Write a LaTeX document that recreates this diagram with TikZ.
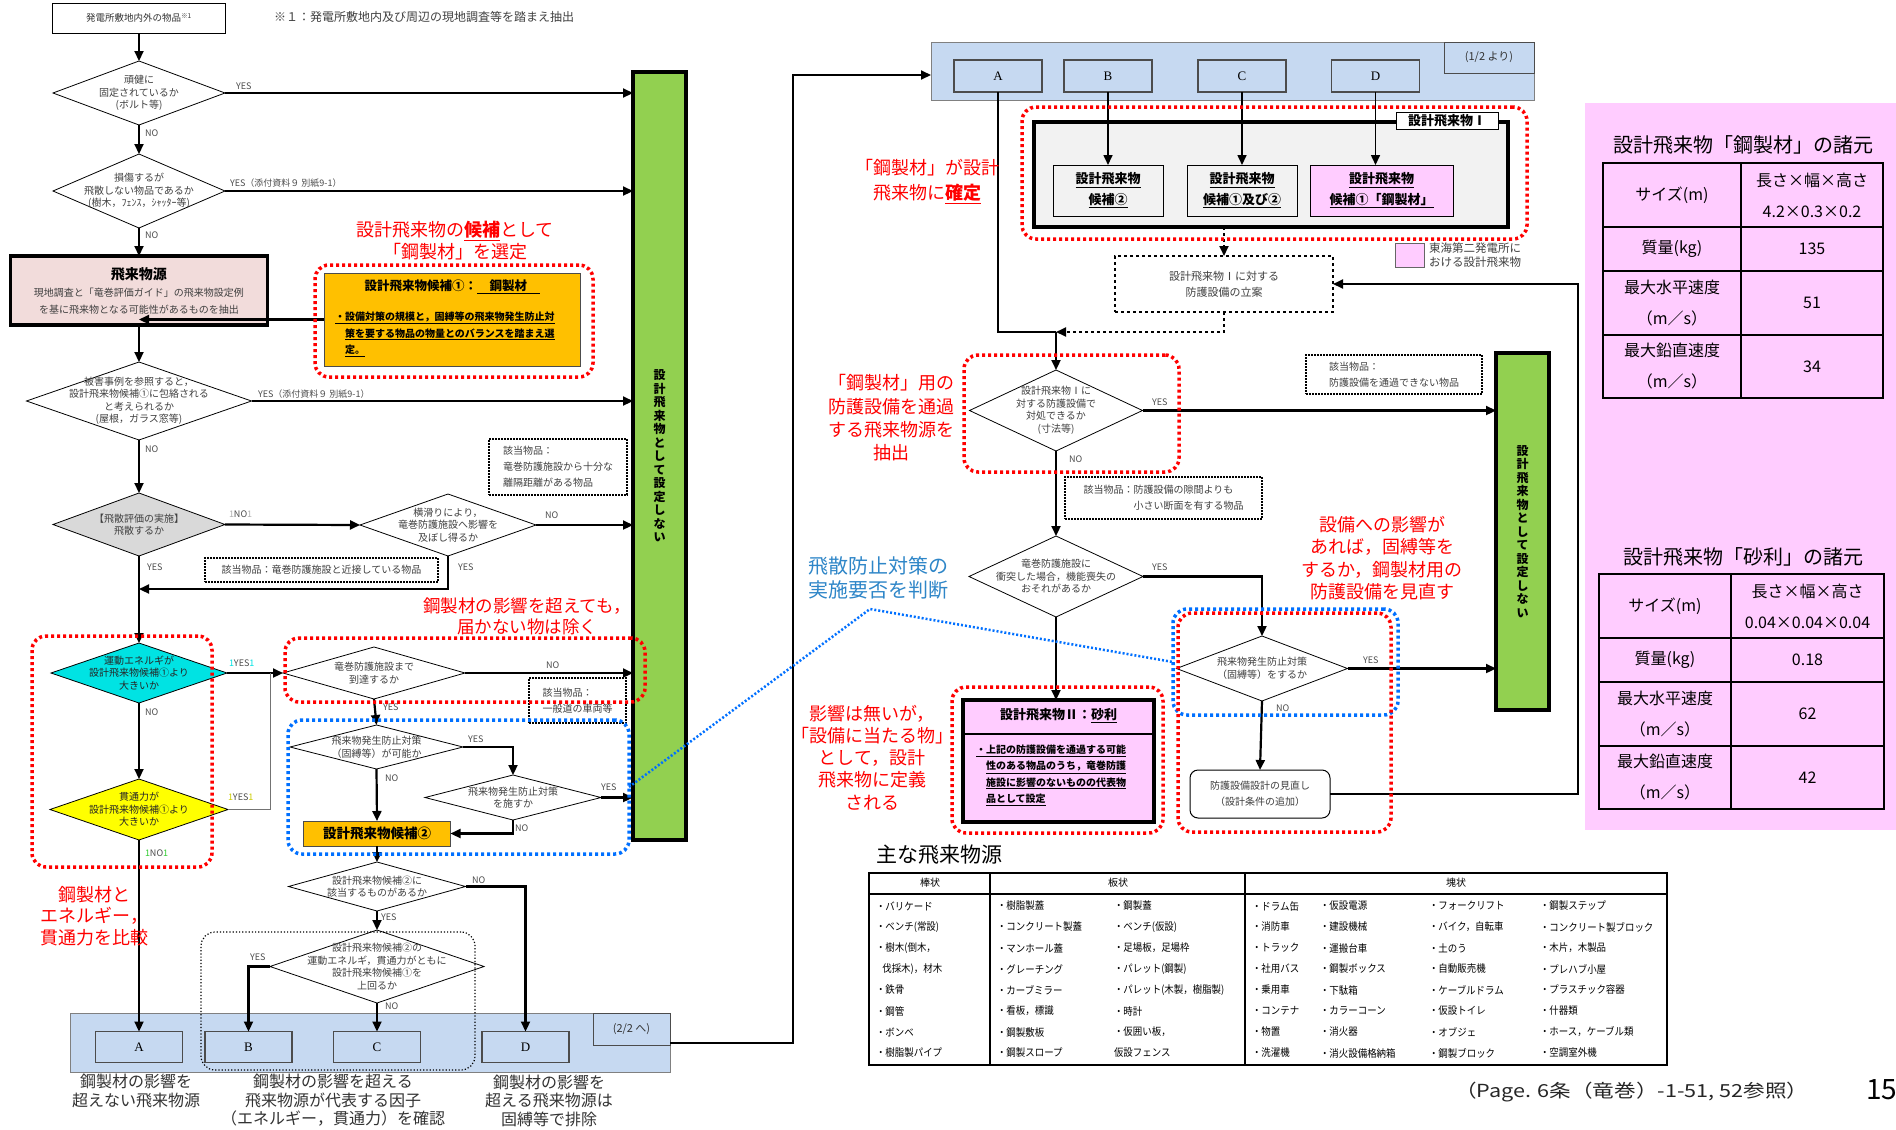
\documentclass[tikz,border=0pt]{standalone}
\usepackage{fontspec}
\setmainfont{Noto Sans CJK JP}
\newfontfamily\letterfont{Liberation Serif}
\usepackage{tikz}
\usetikzlibrary{positioning,shapes.geometric,arrows.meta}

\definecolor{barGreen}{HTML}{92D050}
\definecolor{candPink}{HTML}{FFCCFF}
\definecolor{candOrange}{HTML}{FFC000}
\definecolor{evalCyan}{HTML}{00E3E3}
\definecolor{evalYellow}{HTML}{FFFF00}
\definecolor{evalGray}{HTML}{D9D9D9}
\definecolor{evalGreen}{HTML}{33CC33}
\definecolor{bandBlue}{HTML}{C6D9F1}
\definecolor{srcPink}{HTML}{F2DCDB}
\definecolor{panelGray}{HTML}{F2F2F2}
\definecolor{zoneBlue}{HTML}{0070FF}
\definecolor{textBlue}{HTML}{2E86C8}

\begin{document}
\begin{tikzpicture}[x=1pt, y=-1pt,
    every node/.style={inner sep=0pt, outer sep=0pt},
    >={Triangle[length=10pt,width=9pt]},
    flow/.style={->, line width=2.2pt},
    thinlink/.style={line width=0.9pt, draw=black!55},
    decision/.style={diamond, draw, line width=0.8pt, fill=white},
    dtext/.style={align=center, font=\fontsize{10}{12.5}\selectfont, text=black!75},
    yn/.style={anchor=west, font=\fontsize{9}{10}\selectfont, text=black!70},
    notebox/.style={draw, densely dotted, line width=2pt, fill=white, align=left, font=\fontsize{10}{16}\selectfont, text=black!75},
    redzone/.style={draw=red, line width=3.5pt, dash pattern=on 3pt off 3pt, rounded corners=14pt},
    bluezone/.style={draw=zoneBlue, line width=3.5pt, dash pattern=on 3pt off 3pt, rounded corners=14pt},
    redtxt/.style={text=red, align=center, font=\fontsize{18}{22}\selectfont},
    caption/.style={text=black!80, align=center, font=\fontsize{16}{18.5}\selectfont},
    notset/.style={draw, line width=4pt, fill=barGreen, align=center, font=\bfseries\fontsize{12}{13.5}\selectfont},
    band/.style={draw=black!50, line width=1pt, fill=bandBlue},
    letter/.style={draw=black!70, line width=1.2pt, fill=bandBlue, minimum width=87pt, minimum height=31pt, font=\letterfont\fontsize{13}{15}\selectfont},
    cand/.style={draw, line width=1pt, fill=panelGray, align=center, minimum width=110pt, minimum height=51pt, font=\bfseries\fontsize{13}{21}\selectfont},
    cell/.style={draw, line width=1.8pt, align=center, font=\fontsize{16}{31}\selectfont},
    item/.style={anchor=west, font=\fontsize{10.5}{12}\selectfont}
]
\useasboundingbox (0,0) rectangle (1896,1130);
\fill[white] (0,0) rectangle (1896,1130);

% ---- left page (1/2) ----
\node[draw, line width=1pt, minimum width=173pt, minimum height=30pt, font=\fontsize{9.5}{11}\selectfont, text=black!80] (items) at (139,18) {発電所敷地内外の物品\textsuperscript{※1}};
\node[anchor=west, font=\fontsize{12}{14}\selectfont, text=black!75] (fn) at (274,17) {※１：発電所敷地内及び周辺の現地調査等を踏まえ抽出};

\node[decision, minimum width=172pt, minimum height=64pt] (d1) at (139,93) {};
\node[dtext] (d1t) at (d1) {頑健に\\固定されているか\\(ボルト等)};
\node[decision, minimum width=172pt, minimum height=74pt] (d2) at (139,191) {};
\node[dtext] (d2t) at (d2) {損傷するが\\飛散しない物品であるか\\(樹木，ﾌｪﾝｽ，ｼｬｯﾀｰ等)};

\node[draw, line width=3.5pt, fill=srcPink, minimum width=257pt, minimum height=69pt, align=center, font=\fontsize{10}{17}\selectfont, text=black!75] (src) at (139,290.5) {{\bfseries\fontsize{14}{17}\selectfont\color{black}飛来物源}\\現地調査と「竜巻評価ガイド」の飛来物設定例\\を基に飛来物となる可能性があるものを抽出};

\node[draw=black!70, line width=1pt, fill=candOrange, minimum width=256pt, minimum height=93pt] (o1) at (452,319.5) {};
\node[font=\bfseries\fontsize{12.5}{14}\selectfont] (o1t) at (452,287) {設計飛来物候補①：\underline{\hspace*{1em}鋼製材\hspace*{1em}}};
\node[anchor=north west, align=left, font=\bfseries\fontsize{10}{16.5}\selectfont] (o1b) at (335,312) {\underline{・設備対策の規模と，固縛等の飛来物発生防止対}\\\hspace*{1em}\underline{策を要する物品の物量とのバランスを踏まえ選}\\\hspace*{1em}\underline{定。}};

\node[decision, minimum width=225pt, minimum height=78pt] (d3) at (139,401) {};
\node[dtext] (d3t) at (d3) {被害事例を参照すると，\\設計飛来物候補①に包絡される\\と考えられるか\\(屋根，ガラス窓等)};
\node[decision, fill=evalGray, minimum width=172pt, minimum height=63pt] (d4) at (139,524.5) {};
\node[dtext] (d4t) at (d4) {【飛散評価の実施】\\飛散するか};
\node[decision, minimum width=176pt, minimum height=62pt] (d5) at (448,525) {};
\node[dtext] (d5t) at (d5) {横滑りにより，\\竜巻防護施設へ影響を\\及ぼし得るか};

\node[notebox, minimum width=138pt, minimum height=56pt] (nb1) at (558,467) {該当物品：\\竜巻防護施設から十分な\\離隔距離がある物品};
\node[notebox, minimum width=233pt, minimum height=24pt] (nb2) at (321.5,570) {該当物品：竜巻防護施設と近接している物品};

\node[decision, fill=evalCyan, minimum width=176pt, minimum height=60pt] (cyan) at (139,673) {};
\node[dtext, text=black!85] (cyant) at (cyan) {運動エネルギが\\設計飛来物候補①より\\大きいか};
\node[decision, fill=evalYellow, minimum width=178pt, minimum height=61pt] (yel) at (139,809.5) {};
\node[dtext, text=black!85] (yelt) at (yel) {貫通力が\\設計飛来物候補①より\\大きいか};

\node[decision, minimum width=182pt, minimum height=52pt] (d6) at (374,673) {};
\node[dtext] (d6t) at (d6) {竜巻防護施設まで\\到達するか};
\node[notebox, minimum width=97pt, minimum height=45pt] (nb3) at (577.5,700.5) {該当物品：\\一般道の車両等};
\node[decision, minimum width=173pt, minimum height=44pt] (d7) at (376.5,747) {};
\node[dtext] (d7t) at (d7) {飛来物発生防止対策\\（固縛等）が可能か};
\node[decision, minimum width=176pt, minimum height=45pt] (d8) at (513,797.5) {};
\node[dtext] (d8t) at (d8) {飛来物発生防止対策\\を施すか};
\node[draw=black!70, line width=1pt, fill=candOrange, minimum width=147pt, minimum height=25pt, font=\bfseries\fontsize{13.5}{15}\selectfont] (cand2) at (377,833.5) {設計飛来物候補②};
\node[decision, minimum width=177pt, minimum height=49pt] (d9) at (377,886.5) {};
\node[dtext] (d9t) at (d9) {設計飛来物候補②に\\該当するものがあるか};
\node[decision, minimum width=214pt, minimum height=73pt] (d10) at (377,966.5) {};
\node[dtext] (d10t) at (d10) {設計飛来物候補②の\\運動エネルギ，貫通力がともに\\設計飛来物候補①を\\上回るか};

\node[notset, minimum width=53pt, minimum height=768pt] (gb1) at (659.5,456) {設\\計\\飛\\来\\物\\と\\し\\て\\設\\定\\し\\な\\い};

\node[band, minimum width=600pt, minimum height=59pt] (lb) at (370,1042.5) {};
\node[draw=black!70, line width=1pt, fill=bandBlue, minimum width=77pt, minimum height=32pt, font=\fontsize{11}{13}\selectfont, text=black!80] (to2) at (631.5,1029) {(2/2 へ)};
\node[letter] (bA) at (139,1047) {A};
\node[letter] (bB) at (248.5,1047) {B};
\node[letter] (bC) at (377,1047) {C};
\node[letter] (bD) at (525.5,1047) {D};

\node[caption] (cap1) at (136,1091) {鋼製材の影響を\\超えない飛来物源};
\node[caption] (cap2) at (333,1100.5) {鋼製材の影響を超える\\飛来物源が代表する因子\\（エネルギー，貫通力）を確認};
\node[caption] (cap3) at (549,1100.5) {鋼製材の影響を\\超える飛来物源は\\固縛等で排除};

% connectors, left page
\draw[flow] (items.south) -- (d1.north);
\draw[flow] (d1.east) -- (d1.east -| gb1.west);
\draw[flow] (d1.south) -- (d2.north);
\draw[flow] (d2.east) -- (d2.east -| gb1.west);
\draw[flow] (d2.south) -- (src.north);
\draw[flow] (src.south) -- (d3.north);
\draw[flow] (o1.west) -- (o1.west -| src.south);
\draw[flow] (d3.east) -- (d3.east -| gb1.west);
\draw[flow] (d3.south) -- (d4.north);
\draw[flow] (d4.east) -- (d5.west);
\draw[flow] (d5.east) -- (d5.east -| gb1.west);
\coordinate (m1) at (139,589);
\draw[flow] (d5.south) |- (m1);
\draw[flow] (d4.south) -- (cyan.north);
\draw[flow] (cyan.east) -- (d6.west);
\coordinate (yj) at (270,673);
\draw[thinlink] (yel.east) -| (yj);
\draw[flow] (cyan.south) -- (yel.north);
\draw[flow] (yel.south) -- (bA.north);
\draw[flow] (d6.east) -- (d6.east -| gb1.west);
\draw[flow] (d6.south) -- (d7.north);
\draw[flow] (d7.east) -| (d8.north);
\draw[flow] (d8.east) -- (d8.east -| gb1.west);
\draw[flow] (d8.south) |- (cand2.east);
\draw[flow] (d7.south) -- (cand2.north);
\draw[flow] (cand2.south) -- (d9.north);
\draw[flow] (d9.east) -| (bD.north);
\draw[flow] (d9.south) -- (d10.north);
\draw[flow] (d10.west) -| (bB.north);
\draw[flow] (d10.south) -- (bC.north);
\coordinate (tj) at (793,75);

% labels, left page
\node[yn] (l1) at (236,86) {YES};
\node[yn] (l2) at (145,133) {NO};
\node[yn] (l3) at (230,183) {YES（添付資料９ 別紙9-1）};
\node[yn] (l4) at (145,235) {NO};
\node[yn] (l5) at (258,394) {YES（添付資料９ 別紙9-1）};
\node[yn] (l6) at (145,449) {NO};
\node[yn] (l7) at (229,514) {\textcolor{black!30}{1}NO\textcolor{black!30}{1}};
\node[yn] (l8) at (545,515) {NO};
\node[yn] (l9) at (458,567) {YES};
\node[yn] (l10) at (147,567) {YES};
\node[yn] (l11) at (229,663) {\textcolor{evalCyan}{1}YES\textcolor{evalCyan}{1}};
\node[yn] (l12) at (145,712) {NO};
\node[yn] (l13) at (228,797) {\textcolor{evalYellow!80!black}{1}YES\textcolor{evalYellow!80!black}{1}};
\node[yn] (l14) at (145,853) {\textcolor{evalGreen}{1}NO\textcolor{evalGreen}{1}};
\node[yn] (l15) at (546,665) {NO};
\node[yn] (l16) at (383,707) {YES};
\node[yn] (l17) at (468,739) {YES};
\node[yn] (l18) at (385,778) {NO};
\node[yn] (l19) at (601,787) {YES};
\node[yn] (l20) at (515,828) {NO};
\node[yn] (l21) at (472,880) {NO};
\node[yn] (l22) at (381,917) {YES};
\node[yn] (l23) at (250,957) {YES};
\node[yn] (l24) at (385,1006) {NO};

% ---- right page (2/2) ----
\node[band, minimum width=603pt, minimum height=58pt] (ub) at (1232.5,71) {};
\node[draw=black!70, line width=1pt, fill=bandBlue, minimum width=90pt, minimum height=31pt, font=\fontsize{11}{13}\selectfont, text=black!80] (from1) at (1489,57.5) {(1/2 より)};
\node[letter, minimum width=88pt, minimum height=32pt] (uA) at (998,76) {A};
\node[letter, minimum width=88pt, minimum height=32pt] (uB) at (1108,76) {B};
\node[letter, minimum width=88pt, minimum height=32pt] (uC) at (1242,76) {C};
\node[letter, minimum width=88pt, minimum height=32pt] (uD) at (1375.5,76) {D};
\draw[flow, line width=2pt] (lb.east) -| (tj) -- (tj -| ub.west);

\node[draw, line width=4pt, fill=panelGray, minimum width=474pt, minimum height=105pt] (p1) at (1271,174.5) {};
\node[draw, line width=1pt, fill=white, minimum width=102pt, minimum height=17pt, font=\bfseries\fontsize{13}{15}\selectfont] (p1l) at (1447,121) {設計飛来物Ⅰ};
\node[cand] (k1) at (1108,190.5) {\underline{設計飛来物}\\\underline{候補②}};
\node[cand] (k2) at (1242,190.5) {\underline{設計飛来物}\\\underline{候補①及び②}};
\node[cand, fill=candPink, minimum width=143pt] (k3) at (1381.5,190.5) {\underline{設計飛来物}\\\underline{候補①「鋼製材」}};
\draw[flow, line width=1.6pt] (uB.south) -- (k1.north);
\draw[flow, line width=1.6pt] (uC.south) -- (k2.north);
\draw[flow, line width=1.6pt] (uD.south) -- (uD.south |- k3.north);

\node[draw=black!60, line width=0.8pt, fill=candPink, minimum width=29pt, minimum height=24pt] (lg) at (1409.5,255) {};
\node[right=5pt of lg, align=left, font=\fontsize{11.5}{13.5}\selectfont, text=black!75] (lgt) {東海第二発電所に\\おける設計飛来物};

\node[draw, dashed, line width=1.8pt, minimum width=218pt, minimum height=56pt, align=center, font=\fontsize{11}{16}\selectfont, text=black!75] (plan) at (1224,284) {設計飛来物Ⅰに対する\\防護設備の立案};
\draw[flow, dashed, line width=1.8pt] (p1.south -| plan.north) -- (plan.north);
\coordinate (pj) at (1056,332);
\draw[flow, dashed, line width=2pt] (plan.south) |- (pj);
\draw[line width=1.6pt] (uA.south) |- (pj);

\node[decision, minimum width=173pt, minimum height=81pt] (d11) at (1056,410.5) {};
\node[dtext] (d11t) at (d11) {設計飛来物Ⅰに\\対する防護設備で\\対処できるか\\(寸法等)};
\node[notebox, minimum width=176pt, minimum height=39pt] (nb4) at (1394,374.5) {該当物品：\\防護設備を通過できない物品};
\node[notebox, minimum width=197pt, minimum height=42pt] (nb5) at (1163.5,498) {該当物品：防護設備の隙間よりも\\\hspace*{5em}小さい断面を有する物品};
\node[decision, minimum width=174pt, minimum height=81pt] (d12) at (1056,576.5) {};
\node[dtext] (d12t) at (d12) {竜巻防護施設に\\衝突した場合，機能喪失の\\おそれがあるか};
\node[decision, minimum width=171pt, minimum height=65pt] (d13) at (1262,668.5) {};
\node[dtext] (d13t) at (d13) {飛来物発生防止対策\\（固縛等）をするか};
\node[draw, line width=1pt, rounded corners=8pt, minimum width=140pt, minimum height=48pt, align=center, font=\fontsize{10}{16}\selectfont, text=black!75] (rev) at (1260,794) {防護設備設計の見直し\\（設計条件の追加）};

\node[draw, line width=4pt, fill=candPink, minimum width=191pt, minimum height=122pt] (gravel) at (1058.5,761) {};
\node[font=\bfseries\fontsize{13}{15}\selectfont] (gt) at (1058.5,716) {設計飛来物Ⅱ：\underline{砂利}};
\coordinate (gsep) at (1058.5,734);
\draw[line width=1.5pt] (gravel.west |- gsep) -- (gravel.east |- gsep);
\node[anchor=north west, align=left, font=\bfseries\fontsize{10}{16.3}\selectfont] (gb) at (976,745) {\underline{・上記の防護設備を通過する可能}\\\hspace*{1em}\underline{性のある物品のうち，竜巻防護}\\\hspace*{1em}\underline{施設に影響のないものの代表物}\\\hspace*{1em}\underline{品として設定}};

\node[notset, minimum width=53pt, minimum height=357pt] (gb2) at (1522.5,531.5) {設\\計\\飛\\来\\物\\と\\し\\て\\設\\定\\し\\な\\い};

\draw[flow] (pj) -- (d11.north);
\draw[flow] (d11.east) -- (d11.east -| gb2.west);
\draw[flow] (d11.south) -- (d12.north);
\draw[flow] (d12.east) -| (d13.north);
\draw[flow] (d13.east) -- (d13.east -| gb2.west);
\draw[flow] (d13.south) -- (rev.north);
\draw[flow] (d12.south) -- (d12.south |- gravel.north);
\coordinate (rj) at (1578,284);
\draw[flow] (rev.east) -| (rj) -- (plan.east);

\node[yn] (l25) at (1152,402) {YES};
\node[yn] (l26) at (1069,459) {NO};
\node[yn] (l27) at (1152,567) {YES};
\node[yn] (l28) at (1363,660) {YES};
\node[yn] (l29) at (1276,708) {NO};

% ---- zones and notes ----
\node[redzone, minimum width=278pt, minimum height=112pt] (rz1) at (454,321) {};
\node[redzone, minimum width=360pt, minimum height=64pt] (rz2) at (465,670) {};
\node[redzone, minimum width=180pt, minimum height=231pt] (rz3) at (122,751.5) {};
\node[bluezone, minimum width=341pt, minimum height=134pt] (bz1) at (458.5,787) {};
\node[draw, dotted, line width=1.2pt, rounded corners=14pt, minimum width=274pt, minimum height=138pt] (kz) at (338,1001) {};
\node[redzone, minimum width=505pt, minimum height=132pt] (rz4) at (1274.5,173) {};
\node[redzone, minimum width=215pt, minimum height=117pt] (rz5) at (1071.5,413.5) {};
\node[bluezone, minimum width=225pt, minimum height=106pt] (bz2) at (1285.5,662) {};
\node[redzone, minimum width=213pt, minimum height=219pt] (rz6) at (1284.5,722.5) {};
\node[redzone, minimum width=211pt, minimum height=146pt] (rz7) at (1057.5,760) {};
\coordinate (bk) at (870,609);
\draw[zoneBlue, line width=2.5pt, dash pattern=on 2pt off 2pt] (bz1.east) -- (bk) -- (bz2.west);

\node[redtxt] (rt1) at (455,241) {設計飛来物の\textbf{\underline{候補}}として\\「鋼製材」を選定};
\node[redtxt, font=\fontsize{17.5}{21}\selectfont] (rt2) at (527,616.5) {鋼製材の影響を超えても，\\届かない物は除く};
\node[redtxt, font=\fontsize{18}{21.5}\selectfont] (rt3) at (94,916) {鋼製材と\\エネルギー，\\貫通力を比較};
\node[redtxt, font=\fontsize{18}{25}\selectfont] (rt4) at (927,181.5) {「鋼製材」が設計\\飛来物に\textbf{\underline{確定}}};
\node[redtxt, font=\fontsize{18}{23.3}\selectfont] (rt5) at (891,418) {「鋼製材」用の\\防護設備を通過\\する飛来物源を\\抽出};
\node[redtxt, font=\fontsize{18}{22.3}\selectfont] (rt6) at (1382,558) {設備への影響が\\あれば，固縛等を\\するか，鋼製材用の\\防護設備を見直す};
\node[redtxt, font=\fontsize{18}{22.2}\selectfont] (rt7) at (872,757.5) {影響は無いが，\\「設備に当たる物」\\として，設計\\飛来物に定義\\される};
\node[align=center, text=textBlue, font=\fontsize{20}{24}\selectfont] (bt) at (878,578) {飛散防止対策の\\実施要否を判断};

% ---- main sources table ----
\node[anchor=west, font=\fontsize{21}{24}\selectfont] (tt) at (876,855) {主な飛来物源};
\node[draw, line width=1.5pt, minimum width=798pt, minimum height=192pt] (tbl) at (1268,969) {};
\draw[line width=1.2pt] (869,894) -- (1667,894);
\draw[line width=1.2pt] (990,873) -- (990,1065);
\draw[line width=1.2pt] (1245,873) -- (1245,1065);
\node[font=\fontsize{10}{11}\selectfont] (h1) at (930,883) {棒状};
\node[font=\fontsize{10}{11}\selectfont] (h2) at (1118,883) {板状};
\node[font=\fontsize{10}{11}\selectfont] (h3) at (1456,883) {塊状};
\foreach \t [count=\i] in {・バリケード,・ベンチ(常設),・樹木(倒木，,\hspace*{7pt}伐採木)，材木,・鉄骨,・鋼管,・ボンベ,・樹脂製パイプ}
  \node[item] (ca\i) at (876,885+21*\i) {\scalebox{0.9}[1]{\t}};
\foreach \t [count=\i] in {・樹脂製蓋,・コンクリート製蓋,・マンホール蓋,・グレーチング,・カーブミラー,・看板，標識,・鋼製敷板,・鋼製スロープ}
  \node[item] (cb\i) at (997,885+21*\i) {\scalebox{0.9}[1]{\t}};
\foreach \t [count=\i] in {・鋼製蓋,・ベンチ(仮設),・足場板，足場枠,・パレット(鋼製),・パレット(木製，樹脂製),・時計,・仮囲い板，,仮設フェンス}
  \node[item] (cc\i) at (1114,885+21*\i) {\scalebox{0.9}[1]{\t}};
\foreach \t [count=\i] in {・ドラム缶,・消防車,・トラック,・社用バス,・乗用車,・コンテナ,・物置,・洗濯機}
  \node[item] (cd\i) at (1252,885+21*\i) {\scalebox{0.9}[1]{\t}};
\foreach \t [count=\i] in {・仮設電源,・建設機械,・運搬台車,・鋼製ボックス,・下駄箱,・カラーコーン,・消火器,・消火設備格納箱}
  \node[item] (ce\i) at (1320,885+21*\i) {\scalebox{0.9}[1]{\t}};
\foreach \t [count=\i] in {・フォークリフト,・バイク，自転車,・土のう,・自動販売機,・ケーブルドラム,・仮設トイレ,・オブジェ,・鋼製ブロック}
  \node[item] (cf\i) at (1429,885+21*\i) {\scalebox{0.9}[1]{\t}};
\foreach \t [count=\i] in {・鋼製ステップ,・コンクリート製ブロック,・木片，木製品,・プレハブ小屋,・プラスチック容器,・什器類,・ホース，ケーブル類,・空調室外機}
  \node[item] (cg\i) at (1540,885+21*\i) {\scalebox{0.9}[1]{\t}};

\node[anchor=west, font=\fontsize{18}{20}\selectfont, text=black!85] (pref) at (1455,1092) {\scalebox{1.2}[1]{（Page. 6条（竜巻）-1-51, 52参照）}};
\node[anchor=west, font=\fontsize{28}{30}\selectfont] (pgno) at (1866,1090) {15};

% ---- specification panel ----
\fill[candPink] (1585,103) rectangle (1896,830);
\node[font=\fontsize{20}{24}\selectfont] (t1) at (1743,145) {設計飛来物「鋼製材」の諸元};
\node[cell, minimum width=138pt, minimum height=64pt] (s11) at (1672,195) {サイズ(m)};
\node[cell, minimum width=142pt, minimum height=64pt] (s12) at (1812,195) {長さ×幅×高さ\\4.2×0.3×0.2};
\node[cell, minimum width=138pt, minimum height=44pt] (s21) at (1672,249) {質量(kg)};
\node[cell, minimum width=142pt, minimum height=44pt] (s22) at (1812,249) {135};
\node[cell, minimum width=138pt, minimum height=64pt] (s31) at (1672,303) {最大水平速度\\（m／s）};
\node[cell, minimum width=142pt, minimum height=64pt] (s32) at (1812,303) {51};
\node[cell, minimum width=138pt, minimum height=63pt] (s41) at (1672,366.5) {最大鉛直速度\\（m／s）};
\node[cell, minimum width=142pt, minimum height=63pt] (s42) at (1812,366.5) {34};

\node[font=\fontsize{20}{24}\selectfont] (t2) at (1743,557) {設計飛来物「砂利」の諸元};
\node[cell, minimum width=132pt, minimum height=64pt] (g11) at (1665,606) {サイズ(m)};
\node[cell, minimum width=153pt, minimum height=64pt] (g12) at (1807.5,606) {長さ×幅×高さ\\0.04×0.04×0.04};
\node[cell, minimum width=132pt, minimum height=44pt] (g21) at (1665,660) {質量(kg)};
\node[cell, minimum width=153pt, minimum height=44pt] (g22) at (1807.5,660) {0.18};
\node[cell, minimum width=132pt, minimum height=64pt] (g31) at (1665,714) {最大水平速度\\（m／s）};
\node[cell, minimum width=153pt, minimum height=64pt] (g32) at (1807.5,714) {62};
\node[cell, minimum width=132pt, minimum height=63pt] (g41) at (1665,777.5) {最大鉛直速度\\（m／s）};
\node[cell, minimum width=153pt, minimum height=63pt] (g42) at (1807.5,777.5) {42};
\end{tikzpicture}
\end{document}
